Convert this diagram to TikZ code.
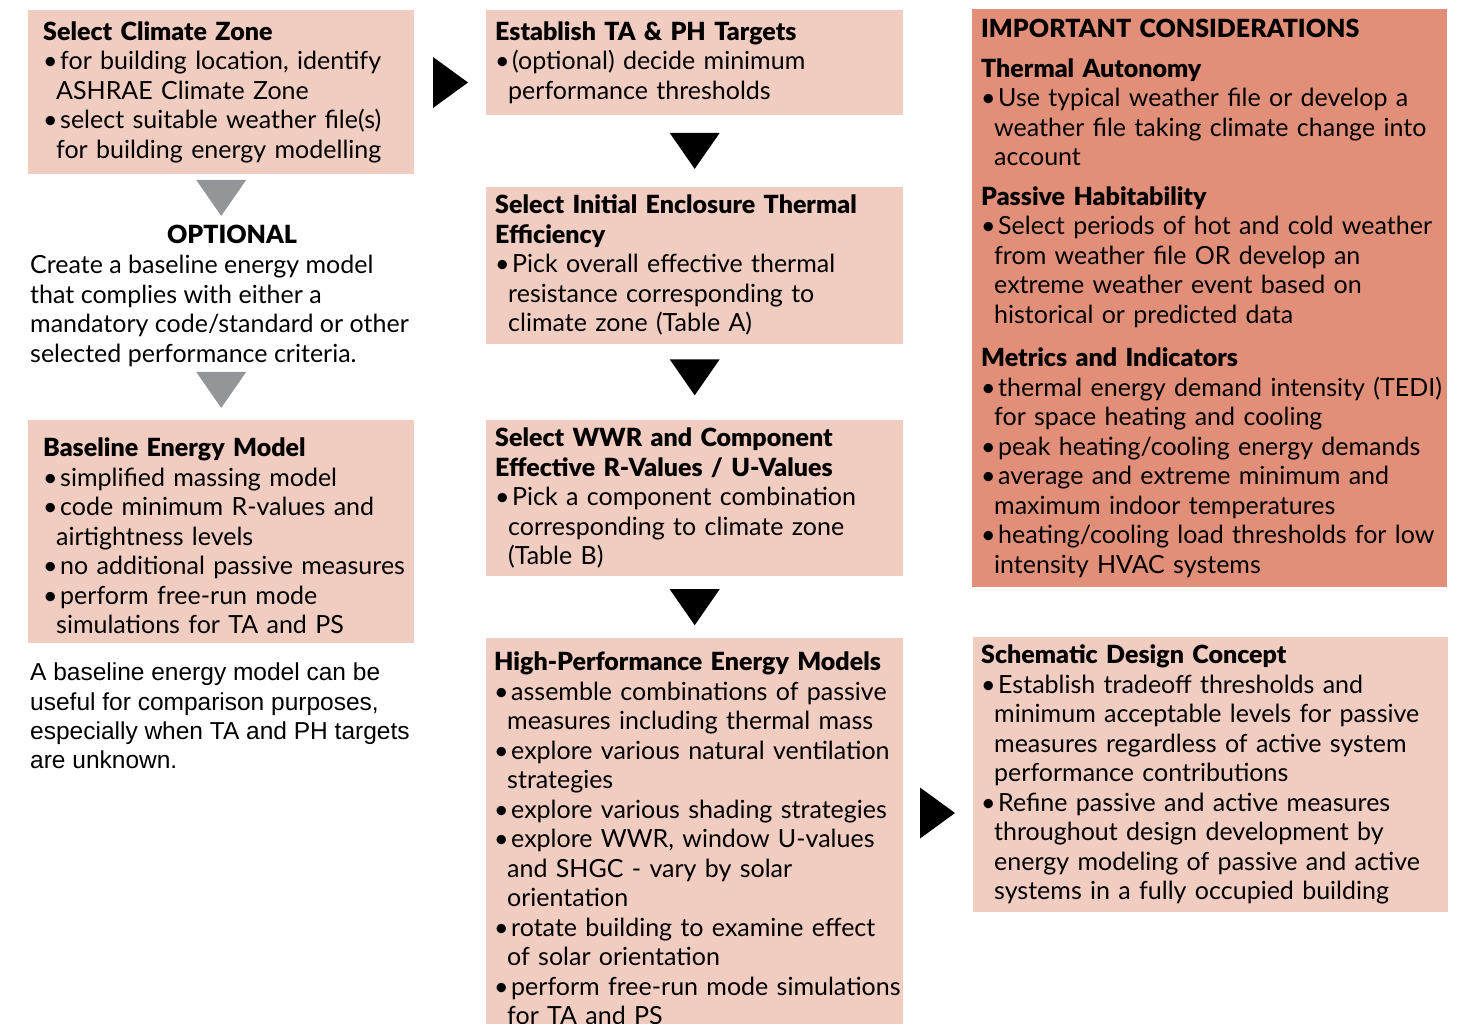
\documentclass[tikz,border=0pt]{standalone}
\usepackage{fontspec}
\setmainfont{Lato}[BoldFont={Lato Black}]
\newfontfamily\arialfont{Liberation Sans}
\usetikzlibrary{positioning,calc}

\definecolor{boxpink}{RGB}{241,204,192}
\definecolor{boxsalmon}{RGB}{226,143,122}
\definecolor{arrowgray}{RGB}{147,149,152}

\newcommand{\bodyfont}{\fontsize{25}{29.5}\selectfont}
\newcommand{\bl}{\makebox[17pt][l]{\textbullet}}
\newcommand{\ct}{\hspace*{13pt}}
\newcommand{\downtri}[2]{\fill[#2] (#1) ++(-25,-18) -- ++(50,0) -- ++(-25,36) -- cycle;}
\newcommand{\righttri}[2]{\fill[#2] (#1) ++(-17.5,-25.5) -- ++(35,25.5) -- ++(-35,25.5) -- cycle;}

\begin{document}
\begin{tikzpicture}[
    x=1pt, y=-1pt,
    pinkbox/.style={fill=boxpink, anchor=north west, inner xsep=0pt, inner ysep=0pt, align=left, font=\bodyfont, execute at begin node={\leftskip=#1\rightskip=-40pt plus 1fil}},
    salmonbox/.style={pinkbox=#1, fill=boxsalmon},
    plaintext/.style={anchor=north west, inner sep=0pt, align=left, font=\bodyfont}
]
\useasboundingbox (0,0) rectangle (1470,1023);

% left column
\node[pinkbox=15pt, text width=386pt, minimum height=164pt] (climate) at (28,10) {\textbf{Select Climate Zone}\\
\bl for building location, identify\\
\ct ASHRAE Climate Zone\\
\bl select suitable weather file(s)\\
\ct for building energy modelling};
\node[font=\bodyfont\bfseries, inner sep=0pt] (optional) at (232,234) {OPTIONAL};
\node[plaintext] (optdesc) at (30,255) {Create a baseline energy model\\
that complies with either a\\
mandatory code/standard or other\\
selected performance criteria.};
\node[pinkbox=15pt, text width=386pt, minimum height=223pt, below=245pt of climate] (baseline) {\rule{0pt}{28pt}\textbf{Baseline Energy Model}\\
\bl simplified massing model\\
\bl code minimum R-values and\\
\ct airtightness levels\\
\bl no additional passive measures\\
\bl perform free-run mode\\
\ct simulations for TA and PS};
\node[plaintext, font=\arialfont\fontsize{24.5}{29.3}\selectfont] (baselinenote) at (30,663) {A baseline energy model can be\\
useful for comparison purposes,\\
especially when TA and PH targets\\
are unknown.};

% middle column
\node[pinkbox=9pt, text width=417pt, minimum height=105pt] (targets) at (486,10) {\textbf{Establish TA \& PH Targets}\\
\bl (optional) decide minimum\\
\ct performance thresholds};
\node[pinkbox=9pt, text width=417pt, minimum height=157pt, below=71pt of targets] (enclosure) {\textbf{Select Initial Enclosure Thermal}\\
\textbf{Efficiency}\\
\bl Pick overall effective thermal\\
\ct resistance corresponding to\\
\ct climate zone (Table A)};
\node[pinkbox=9pt, text width=417pt, minimum height=156pt, below=76pt of enclosure] (wwr) {\textbf{Select WWR and Component}\\
\textbf{Effective R-Values / U-Values}\\
\bl Pick a component combination\\
\ct corresponding to climate zone\\
\ct (Table B)};
\node[pinkbox=8pt, text width=417pt, minimum height=400pt, below=62pt of wwr] (hpmodels) {\textbf{High-Performance Energy Models}\\
\bl assemble combinations of passive\\
\ct measures including thermal mass\\
\bl explore various natural ventilation\\
\ct strategies\\
\bl explore various shading strategies\\
\bl explore WWR, window U-values\\
\ct and SHGC - vary by solar\\
\ct orientation\\
\bl rotate building to examine effect\\
\ct of solar orientation\\
\bl perform free-run mode simulations\\
\ct for TA and PS};

% right column
\node[salmonbox=9pt, text width=475pt, minimum height=578pt] (important) at (972,9) {\textbf{IMPORTANT CONSIDERATIONS}\\[10pt]
\textbf{Thermal Autonomy}\\
\bl Use typical weather file or develop a\\
\ct weather file taking climate change into\\
\ct account\\[10pt]
\textbf{Passive Habitability}\\
\bl Select periods of hot and cold weather\\
\ct from weather file OR develop an\\
\ct extreme weather event based on\\
\ct historical or predicted data\\[14pt]
\textbf{Metrics and Indicators}\\
\bl thermal energy demand intensity (TEDI)\\
\ct for space heating and cooling\\
\bl peak heating/cooling energy demands\\
\bl average and extreme minimum and\\
\ct maximum indoor temperatures\\
\bl heating/cooling load thresholds for low\\
\ct intensity HVAC systems};
\node[pinkbox=8pt, text width=475pt, minimum height=275pt] (schematic) at (973,637) {\textbf{Schematic Design Concept}\\
\bl Establish tradeoff thresholds and\\
\ct minimum acceptable levels for passive\\
\ct measures regardless of active system\\
\ct performance contributions\\
\bl Refine passive and active measures\\
\ct throughout design development by\\
\ct energy modeling of passive and active\\
\ct systems in a fully occupied building};

% arrows
\righttri{450.5,82.5}{black}
\downtri{$(climate.south)+(0,23.5)$}{arrowgray}
\downtri{$(baseline.north)+(0,-29.5)$}{arrowgray}
\downtri{$(targets.south)!0.5!(enclosure.north)$}{black}
\downtri{$(enclosure.south)!0.5!(wwr.north)+(0,-4.5)$}{black}
\downtri{$(wwr.south)!0.5!(hpmodels.north)$}{black}
\righttri{937.5,813}{black}
\end{tikzpicture}
\end{document}
